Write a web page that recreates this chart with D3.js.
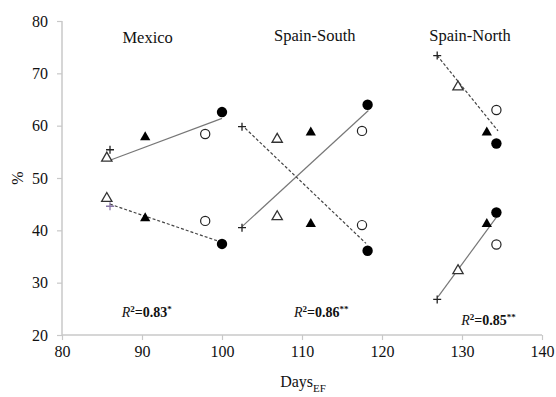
<!DOCTYPE html>
<html>
<head>
<meta charset="utf-8">
<script src="https://cdn.jsdelivr.net/npm/d3@7"></script>
<style>
  body { margin: 0; background: #fff; }
  text { font-family: "Liberation Serif", "Times New Roman", serif; fill: #111; }
</style>
</head>
<body>
<div id="chart"></div>
<script>
// data
let regions = ["Mexico", "Spain-South", "Spain-North"];
let markerTypes = ["plus", "triangleOpen", "triangleFilled", "circleOpen", "circleFilled"];

let mexicoX = [86.0, 85.6, 90.4, 97.9, 100.0];
let mexicoUpper = [55.4, 53.8, 57.8, 58.4, 62.6];
let mexicoLower = [44.6, 46.1, 42.3, 41.8, 37.4];

let southX = [102.5, 106.9, 111.1, 117.5, 118.2];
let southUpper = [59.8, 57.4, 58.7, 59.0, 64.0];
let southLower = [40.5, 42.6, 41.2, 41.0, 36.1];

let northX = [126.9, 129.5, 133.1, 134.3, 134.3];
let northUpper = [73.4, 67.4, 58.7, 63.0, 56.6];
let northLower = [26.8, 32.3, 41.2, 37.3, 43.4];

// fitted lines, start / end
let trendX = [[86.0, 100.0], [86.0, 99.8], [102.5, 118.3], [102.9, 118.0], [127.0, 134.5], [126.9, 134.5]];
let trendY = [[53.4, 61.4], [45.0, 37.8], [40.7, 62.9], [59.5, 37.5], [27.3, 42.9], [73.4, 59.0]];
let trendDashed = [false, true, false, true, false, true];

let r2Labels = ["0.83", "0.86", "0.85"];
let r2Stars = ["*", "**", "**"];

let xTicks = [80, 90, 100, 110, 120, 130, 140];
let yTicks = [20, 30, 40, 50, 60, 70, 80];

let svgWidth = 556;
let svgHeight = 397;
let margin = { top: 21, right: 14, bottom: 62, left: 62 };
let width = svgWidth - margin.left - margin.right;
let height = svgHeight - margin.top - margin.bottom;

let svg = d3.select("#chart").append("svg")
  .attr("width", svgWidth)
  .attr("height", svgHeight);

let g = svg.append("g")
  .attr("transform", `translate(${margin.left}, ${margin.top})`);

let x = d3.scaleLinear().domain([80, 140]).range([0, width]);
let y = d3.scaleLinear().domain([20, 80]).range([height, 0]);

// axes
let xAxis = g.append("g")
  .attr("transform", `translate(0, ${height})`)
  .call(d3.axisBottom(x).tickValues(xTicks).tickSize(5).tickPadding(6));
let yAxis = g.append("g")
  .call(d3.axisLeft(y).tickValues(yTicks).tickSize(5).tickPadding(9));

[xAxis, yAxis].forEach(a => {
  a.select(".domain").attr("stroke", "#c8c8c8").attr("stroke-width", 1.5);
  a.selectAll(".tick line").attr("stroke", "#c8c8c8").attr("stroke-width", 1.2);
  a.selectAll(".tick text")
    .style("font-family", "Liberation Serif, serif")
    .style("font-size", "16px")
    .attr("fill", "#111");
});
// plain axis lines, no outer ticks
yAxis.select(".domain").attr("d", `M0,0V${height}`);
xAxis.select(".domain").attr("d", `M0,0H${width}`);

// axis titles
svg.append("text")
  .attr("transform", `translate(23, ${margin.top + y(50)}) rotate(-90)`)
  .attr("text-anchor", "middle")
  .style("font-size", "16px")
  .text("%");

let xt = svg.append("text")
  .attr("x", margin.left + x(110) + 1)
  .attr("y", 387)
  .attr("text-anchor", "middle")
  .style("font-size", "16px");
xt.append("tspan").text("Days");
xt.append("tspan").attr("dy", 5).style("font-size", "11px").text("EF");

// trend lines
g.selectAll(".trend")
  .data(trendX.map((d, i) => ({ xs: d, ys: trendY[i], dashed: trendDashed[i] })))
  .enter()
  .append("line")
  .attr("x1", d => x(d.xs[0]))
  .attr("y1", d => y(d.ys[0]))
  .attr("x2", d => x(d.xs[1]))
  .attr("y2", d => y(d.ys[1]))
  .attr("stroke", d => d.dashed ? "#444" : "#777")
  .attr("stroke-width", 1.2)
  .attr("stroke-dasharray", d => d.dashed ? "3,2" : null);

// points
let allPoints = [];
[[mexicoX, mexicoUpper, mexicoLower], [southX, southUpper, southLower], [northX, northUpper, northLower]]
  .forEach((set, ri) => {
    markerTypes.forEach((m, i) => {
      allPoints.push({ region: regions[ri], type: m, x: set[0][i], y: set[1][i], upper: true });
      allPoints.push({ region: regions[ri], type: m, x: set[0][i], y: set[2][i], upper: false });
    });
  });

let tri = d3.symbol().type(d3.symbolTriangle).size(46);

let pts = g.selectAll(".pt")
  .data(allPoints)
  .enter()
  .append("g")
  .attr("transform", d => `translate(${x(d.x)}, ${y(d.y)})`);

pts.filter(d => d.type === "plus")
  .append("path")
  .attr("d", "M-4,0H4M0,-4V4")
  .attr("stroke", d => (d.region === "Mexico" && !d.upper) ? "#8a78a8" : "#222")
  .attr("stroke-width", 1.3)
  .attr("fill", "none");

pts.filter(d => d.type === "triangleOpen")
  .append("path")
  .attr("d", tri)
  .attr("fill", "#fff")
  .attr("stroke", "#333")
  .attr("stroke-width", 1.3);

pts.filter(d => d.type === "triangleFilled")
  .append("path")
  .attr("d", tri)
  .attr("fill", "#000");

pts.filter(d => d.type === "circleOpen")
  .append("circle")
  .attr("r", 4.6)
  .attr("fill", "#fff")
  .attr("stroke", "#222")
  .attr("stroke-width", 1.2);

pts.filter(d => d.type === "circleFilled")
  .append("circle")
  .attr("r", 5.2)
  .attr("fill", "#000");

// region titles
let titleX = [90.7, 111.6, 131.0];
let titleY = [75.8, 76.1, 76.2];
g.selectAll(".title")
  .data(regions)
  .enter()
  .append("text")
  .attr("x", (d, i) => x(titleX[i]))
  .attr("y", (d, i) => y(titleY[i]))
  .attr("text-anchor", "middle")
  .style("font-size", "16.5px")
  .text(d => d);

// R² labels
let r2X = [90.6, 112.4, 133.3];
let r2Y = [23.4, 23.4, 21.9];
r2Labels.forEach((v, i) => {
  let t = g.append("text")
    .attr("x", x(r2X[i]))
    .attr("y", y(r2Y[i]))
    .attr("text-anchor", "middle")
    .style("font-size", "14px")
    .style("font-weight", "bold");
  t.append("tspan").style("font-style", "italic").style("font-weight", "normal").text("R");
  t.append("tspan").attr("dy", -5).style("font-size", "9px").text("2");
  t.append("tspan").attr("dy", 5).text("=" + v);
  t.append("tspan").attr("dy", -5).style("font-size", "9px").text(r2Stars[i]);
});
</script>
</body>
</html>
